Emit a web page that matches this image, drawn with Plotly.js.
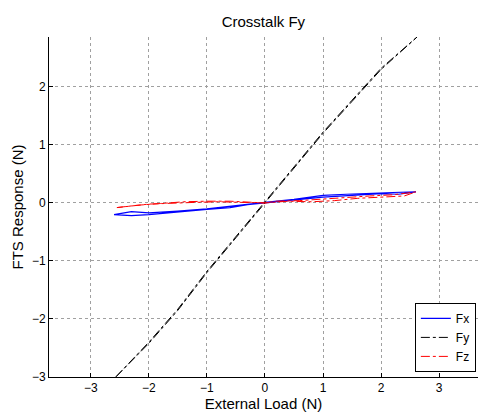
<!DOCTYPE html>
<html><head><meta charset="utf-8">
<script src="https://cdn.plot.ly/plotly-3.0.1.min.js"></script>
<style>html,body{margin:0;padding:0;background:#fff}#c{width:478px;height:415px}</style>
</head><body><div id="c"></div>
<script>
const fxX = [-2.6,-2.3,-2.0,-1.5,-1.0,-0.6,-0.3,0,0.5,1.0,1.5,2.0,2.3,2.6,2.2,1.8,1.4,1.0,0.5,0,-0.5,-1.0,-1.5,-2.0,-2.3,-2.6];
const fxY = [-0.20,-0.22,-0.20,-0.15,-0.11,-0.08,-0.03,0.0,0.05,0.10,0.13,0.16,0.15,0.19,0.18,0.17,0.15,0.13,0.06,0.01,-0.05,-0.10,-0.14,-0.17,-0.15,-0.20];
const fyX = [-2.57,-2.0,-1.5,-1.0,-0.5,0,0.5,1.0,1.5,2.0,2.62,2.0,1.5,1.0,0.5,0,-0.5,-1.0,-1.5,-2.0,-2.57];
const fyY = [-3.0,-2.42,-1.85,-1.2,-0.6,0,0.6,1.2,1.75,2.3,2.86,2.32,1.77,1.22,0.62,0.02,-0.58,-1.18,-1.83,-2.4,-3.0];
const fzX = [-2.55,-2.2,-1.8,-1.4,-1.0,-0.6,-0.2,0,0.4,0.8,1.2,1.6,2.0,2.4,2.6,2.2,1.8,1.4,1.0,0.6,0.2,0,-0.4,-0.8,-1.2,-1.6,-2.0,-2.55];
const fzY = [-0.08,-0.04,-0.01,0.02,0.03,0.03,0.01,0.0,0.03,0.02,0.04,0.08,0.10,0.12,0.19,0.14,0.12,0.09,0.06,0.04,0.03,0.0,0.01,0.02,0.01,0.0,-0.02,-0.08];
const xTicks = [-3,-2,-1,0,1,2,3];
const yTicks = [-3,-2,-1,0,1,2];

const data = [
  {x: fxX, y: fxY, name: 'Fx', mode: 'lines', line: {color: '#0000ff', width: 1.2}},
  {x: fyX, y: fyY, name: 'Fy', mode: 'lines', line: {color: '#000000', width: 1, dash: 'dashdot'}},
  {x: fzX, y: fzY, name: 'Fz', mode: 'lines', line: {color: '#ff0000', width: 1, dash: 'dashdot'}}
];
const axisCommon = {
  showline: true, linecolor: '#000', linewidth: 1,
  ticks: 'inside', ticklen: 4, tickcolor: '#000',
  showgrid: true, gridcolor: '#a0a0a0', griddash: 'dot', gridwidth: 1,
  zeroline: false, tickfont: {size: 12, color: '#000'}, mirror: false
};
const layout = {
  width: 478, height: 415,
  margin: {l: 49, r: 0, t: 37, b: 38},
  paper_bgcolor: '#fff', plot_bgcolor: '#fff',
  font: {family: 'Liberation Sans, Arial, sans-serif', color: '#000'},
  title: {text: 'Crosstalk Fy', font: {size: 15, color: '#000'}, x: 0.551, xanchor: 'center', y: 0.947, yanchor: 'middle'},
  xaxis: Object.assign({}, axisCommon, {range: [-3.72, 3.67], tickvals: xTicks,
    title: {text: 'External Load (N)', font: {size: 15}, standoff: 2}}),
  yaxis: Object.assign({}, axisCommon, {range: [-3, 2.86], tickvals: yTicks,
    title: {text: 'FTS Response (N)', font: {size: 15}, standoff: 4}}),
  showlegend: true,
  legend: {x: 0.995, xanchor: 'right', y: 0.015, yanchor: 'bottom',
    bgcolor: '#fff', bordercolor: '#000', borderwidth: 1,
    font: {size: 12}, tracegroupgap: 0, itemwidth: 30}
};
Plotly.newPlot('c', data, layout, {displayModeBar: false, staticPlot: true});
</script></body></html>
